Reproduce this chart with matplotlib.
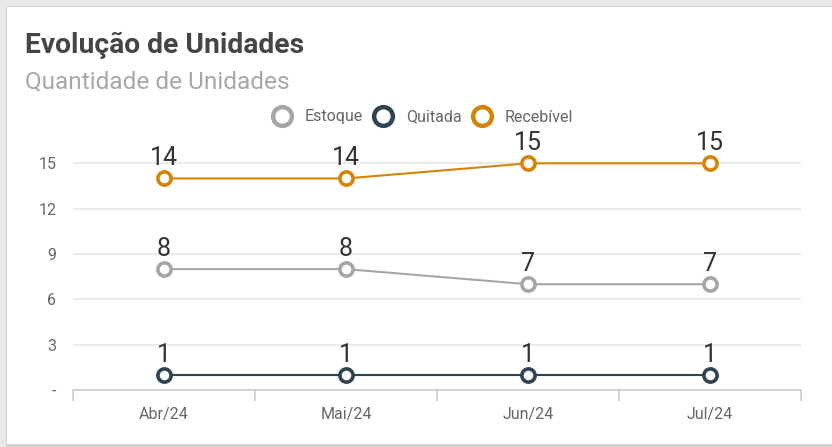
import matplotlib.pyplot as plt
from matplotlib.patches import Rectangle

# data
meses = ['Abr/24', 'Mai/24', 'Jun/24', 'Jul/24']
estoque = [8, 8, 7, 7]
quitada = [1, 1, 1, 1]
recebivel = [14, 14, 15, 15]
yticks = [0, 3, 6, 9, 12, 15]
ytick_labels = ['-', '3', '6', '9', '12', '15']

series = [('Estoque', estoque, '#a6a6a6'),
          ('Quitada', quitada, '#2e4453'),
          ('Recebível', recebivel, '#d4840a')]

plt.rcParams['font.family'] = ['Roboto', 'DejaVu Sans']

W, H = 832, 447
fig = plt.figure(figsize=(W / 100, H / 100), dpi=100)
fig.patch.set_facecolor('#e8e8e8')

# white card (behind the axes)
fig.patches.append(Rectangle((6 / W, 0 / H), 1.0, (H - 6) / H, transform=fig.transFigure,
                             facecolor='#d2d2d2', edgecolor='none', zorder=-10))
fig.patches.append(Rectangle((7 / W, 3 / H), 1.0, (H - 10) / H, transform=fig.transFigure,
                             facecolor='white', edgecolor='none', zorder=-9))

fig.text(25 / W, 1 - 45 / H, 'Evolução de Unidades', fontsize=20.3, fontweight='bold',
         color='#454545', va='center', ha='left')
fig.text(25 / W, 1 - 82 / H, 'Quantidade de Unidades', fontsize=17.6,
         color='#a8a8a8', va='center', ha='left')

# axes: x 73..801, y 118..390 px
ax = fig.add_axes([73 / W, 1 - 390 / H, (801 - 73) / W, (390 - 118) / H])
ax.set_facecolor('none')
x = list(range(len(meses)))

for name, vals, col in series:
    ax.plot(x, vals, color=col, lw=1.5, marker='o', markersize=9.5,
            markerfacecolor='white', markeredgecolor=col, markeredgewidth=2.6,
            label=name, zorder=3, clip_on=False)
    for xi, v in zip(x, vals):
        ax.annotate(str(v), (xi, v), xytext=(0, 9.5), textcoords='offset points',
                    ha='center', va='baseline', fontsize=18, color='#333333', zorder=4)

ax.set_xlim(-0.5, len(meses) - 0.5)
ax.set_ylim(0, 18)
ax.set_yticks(yticks)
ax.set_yticklabels(ytick_labels)
ax.set_xticks(x)
ax.set_xticklabels(meses)
ax.set_xticks([i - 0.5 for i in range(len(meses) + 1)], minor=True)

ax.grid(axis='y', color='#e6e6e6', lw=1.2, zorder=0)
ax.set_axisbelow(True)
for s in ['top', 'right', 'left']:
    ax.spines[s].set_visible(False)
ax.spines['bottom'].set_color('#cccccc')
ax.spines['bottom'].set_linewidth(1.2)

ax.tick_params(axis='y', length=0, pad=12, labelsize=11.5, labelcolor='#666666')
ax.tick_params(axis='x', which='major', length=0, pad=12, labelsize=11.5, labelcolor='#666666')
ax.tick_params(axis='x', which='minor', length=8, width=1.2, color='#cccccc', direction='out')

ax.legend(loc='center', bbox_to_anchor=(423.5 / W, 1 - 117 / H), bbox_transform=fig.transFigure,
          ncol=3, frameon=False, fontsize=11.5, labelcolor='#666666',
          handlelength=1.0, handletextpad=0.9, columnspacing=0.8)
leg = ax.get_legend()
for line in leg.get_lines():
    line.set_linestyle('none')
    line.set_markersize(13.5)
    line.set_markeredgewidth(3.2)

fig.savefig('out.png', dpi=100, facecolor=fig.get_facecolor())
